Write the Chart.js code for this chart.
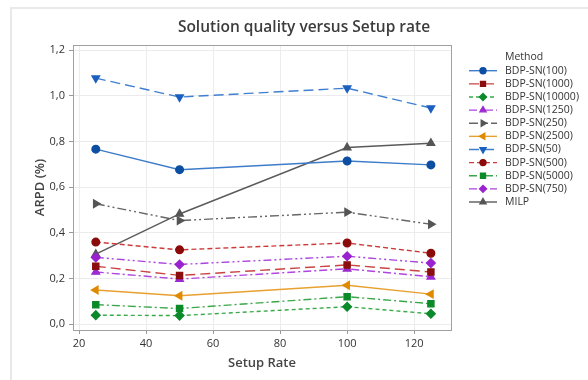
<!DOCTYPE html>
<html>
<head>
<meta charset="utf-8">
<script src="https://cdn.jsdelivr.net/npm/chart.js@4"></script>
<style>
  html, body { margin: 0; padding: 0; background: #fff; }
  #wrap { position: relative; width: 588px; height: 380px; overflow: hidden; }
  #panel { position: absolute; left: 10px; top: 7px; width: 600px; height: 400px;
           border-left: 2px solid #e9e9e9; border-top: 2px solid #e9e9e9; }
  #myChart { position: absolute; left: 0; top: 0; }
</style>
</head>
<body>
<div id="wrap">
  <div id="panel"></div>
  <canvas id="myChart" width="588" height="380"></canvas>
</div>
<script>
// data
const setupRate = [25, 50, 100, 125];
const bdpSn100 = [0.766, 0.676, 0.714, 0.697];
const bdpSn1000 = [0.253, 0.213, 0.259, 0.228];
const bdpSn10000 = [0.039, 0.037, 0.076, 0.045];
const bdpSn1250 = [0.228, 0.197, 0.242, 0.207];
const bdpSn250 = [0.527, 0.453, 0.49, 0.437];
const bdpSn2500 = [0.149, 0.124, 0.17, 0.131];
const bdpSn50 = [1.077, 0.994, 1.033, 0.946];
const bdpSn500 = [0.359, 0.325, 0.355, 0.31];
const bdpSn5000 = [0.085, 0.068, 0.12, 0.089];
const bdpSn750 = [0.292, 0.261, 0.297, 0.267];
const milp = [0.306, 0.482, 0.773, 0.792];

const xTicks = [20, 40, 60, 80, 100, 120];
const yTicks = [0, 0.2, 0.4, 0.6, 0.8, 1.0, 1.2];

const toPts = arr => setupRate.map((x, i) => ({ x: x, y: arr[i] }));

function series(label, values, line, marker, style, rot, dash) {
  return {
    label: label,
    data: toPts(values),
    borderColor: line,
    backgroundColor: marker,
    pointBackgroundColor: marker,
    pointBorderColor: marker,
    pointStyle: style,
    pointRotation: rot,
    pointRadius: style === 'circle' ? 3.8 : 4.3,
    borderWidth: 1.4,
    borderDash: dash,
    tension: 0
  };
}

const datasets = [
  series('BDP-SN(100)', bdpSn100, '#3d7cc9', '#0b4ea2', 'circle', 0, []),
  series('BDP-SN(1000)', bdpSn1000, '#c94444', '#8b0e0e', 'rect', 0, [10, 5]),
  series('BDP-SN(10000)', bdpSn10000, '#3aaa4a', '#0b8a2b', 'rectRot', 0, [4, 3]),
  series('BDP-SN(1250)', bdpSn1250, '#b044e0', '#9b2bd0', 'triangle', 0, [8, 3, 2, 3]),
  series('BDP-SN(250)', bdpSn250, '#666666', '#555555', 'triangle', 90, [9, 3, 2, 3, 2, 3]),
  series('BDP-SN(2500)', bdpSn2500, '#e8a030', '#e08a00', 'triangle', -90, []),
  series('BDP-SN(50)', bdpSn50, '#3f7fd0', '#1b5fc0', 'triangle', 180, [10, 5]),
  series('BDP-SN(500)', bdpSn500, '#cc3b3b', '#8b0a0a', 'circle', 0, [5, 3]),
  series('BDP-SN(5000)', bdpSn5000, '#3aa84a', '#0c8a2a', 'rect', 0, [8, 3, 2, 3]),
  series('BDP-SN(750)', bdpSn750, '#aa44dd', '#9a22d0', 'rectRot', 0, [8, 3, 2, 3, 2, 3]),
  series('MILP', milp, '#5a5a5a', '#555555', 'triangle', 0, [])
];

const extras = {
  id: 'extras',
  beforeDatasetsDraw(chart) {
    const a = chart.chartArea, c = chart.ctx;
    c.save();
    c.strokeStyle = '#a0a0a0';
    c.lineWidth = 1;
    c.strokeRect(a.left + 0.5, a.top + 0.5, a.right - a.left, a.bottom - a.top);
    c.restore();
  },
  afterDraw(chart) {
    const c = chart.ctx;
    c.save();
    // title
    c.fillStyle = '#3c3c3c';
    c.font = '600 15.5px "Open Sans"';
    c.textAlign = 'center';
    c.textBaseline = 'middle';
    c.fillText('Solution quality versus Setup rate', 304, 28);
    // legend
    c.textAlign = 'left';
    c.font = '10.5px "Open Sans"';
    c.fillStyle = '#333';
    c.fillText('Method', 505, 57);
    chart.data.datasets.forEach((d, i) => {
      const y = 70.7 + i * 13.13;
      c.strokeStyle = d.borderColor;
      c.lineWidth = 1.4;
      c.setLineDash(d.borderDash);
      c.beginPath();
      c.moveTo(469, y);
      c.lineTo(497, y);
      c.stroke();
      c.setLineDash([]);
      c.fillStyle = d.pointBackgroundColor;
      c.strokeStyle = d.pointBorderColor;
      Chart.helpers.drawPoint(c, {
        pointStyle: d.pointStyle, rotation: d.pointRotation,
        radius: d.pointStyle === 'circle' ? 3 : 3.5, borderWidth: 1
      }, 483, y);
      c.fillStyle = '#333';
      c.fillText(d.label, 505, y);
    });
    c.restore();
  }
};

new Chart(document.getElementById('myChart'), {
  type: 'line',
  data: { datasets: datasets },
  options: {
    responsive: false,
    animation: false,
    layout: { padding: { left: 28, top: 45, right: 137, bottom: 5 } },
    plugins: { legend: { display: false }, title: { display: false }, tooltip: { enabled: false } },
    scales: {
      x: {
        type: 'linear',
        min: 18.2,
        max: 131,
        afterBuildTicks: s => { s.ticks = xTicks.map(v => ({ value: v })); },
        afterFit: s => { s.height = 45; },
        grid: { color: '#ececec', tickColor: '#999', tickLength: 4 },
        border: { display: false },
        ticks: { color: '#333', font: { family: 'Open Sans', size: 11 }, padding: 3, maxRotation: 0 },
        title: { display: true, text: 'Setup Rate', color: '#444', font: { family: 'Open Sans', size: 13, weight: '600' } }
      },
      y: {
        min: -0.026,
        max: 1.222,
        afterBuildTicks: s => { s.ticks = yTicks.map(v => ({ value: v })); },
        afterFit: s => { s.width = 45; },
        grid: { color: '#ececec', tickColor: '#999', tickLength: 4 },
        border: { display: false },
        ticks: {
          color: '#333', font: { family: 'Open Sans', size: 11 }, padding: 4,
          callback: v => v.toFixed(1).replace('.', ',')
        },
        title: { display: true, text: 'ARPD (%)', color: '#444', font: { family: 'Open Sans', size: 13, weight: '600' } }
      }
    }
  },
  plugins: [extras]
});
</script>
</body>
</html>
